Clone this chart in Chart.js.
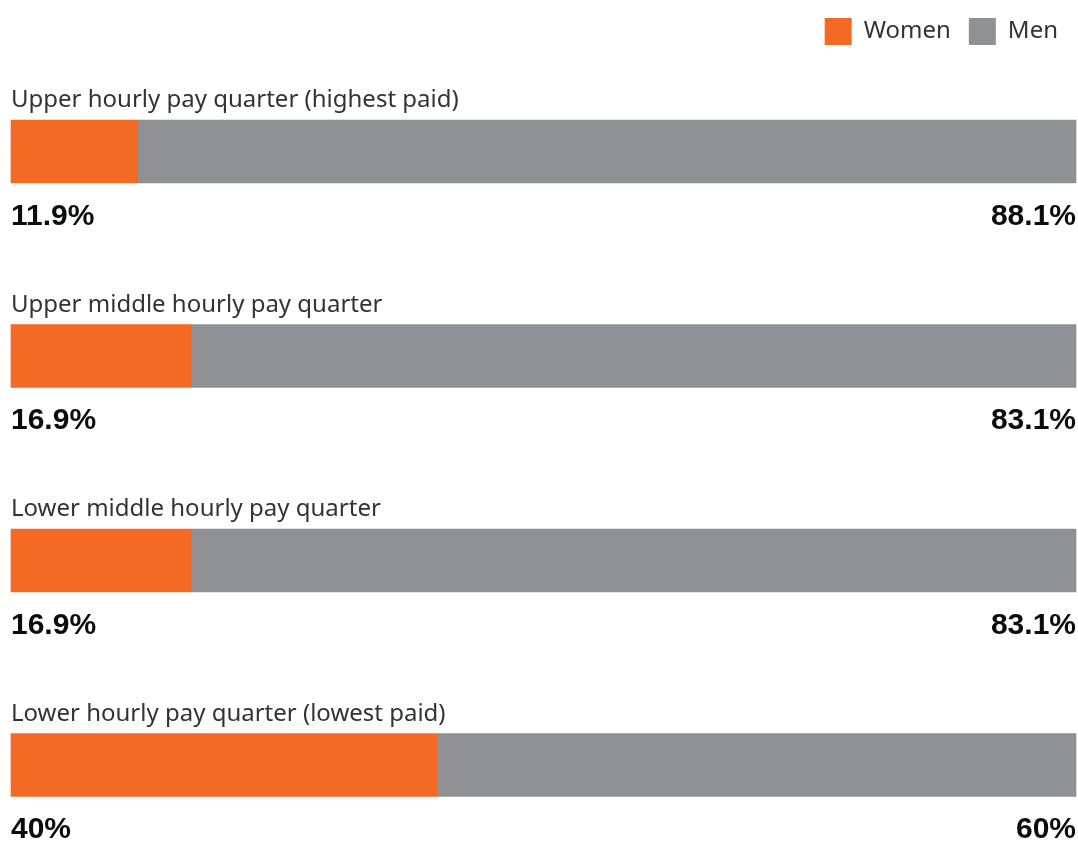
<!DOCTYPE html>
<html>
<head>
<meta charset="utf-8">
<script src="https://cdn.jsdelivr.net/npm/chart.js@4/dist/chart.umd.min.js"></script>
<style>
  html, body { margin: 0; padding: 0; background: #fff; }
  #wrap { width: 1078px; height: 841px; }
</style>
</head>
<body>
<div id="wrap"><canvas id="myChart" width="1078" height="841"></canvas></div>
<script>
// datos
var quarters = [
  "Upper hourly pay quarter (highest paid)",
  "Upper middle hourly pay quarter",
  "Lower middle hourly pay quarter",
  "Lower hourly pay quarter (lowest paid)"
];
var women = [11.9, 16.9, 16.9, 40];
var men = [88.1, 83.1, 83.1, 60];
var womenLabels = ["11.9%", "16.9%", "16.9%", "40%"];
var menLabels = ["88.1%", "83.1%", "83.1%", "60%"];

// la leyenda ocupa todo el espacio de arriba
var espacioLeyenda = {
  id: 'espacioLeyenda',
  beforeInit: function(chart) {
    var fitOriginal = chart.legend.fit;
    chart.legend.fit = function() {
      fitOriginal.bind(chart.legend)();
      this.height = 151.5;
    };
  }
};

// titulos arriba de cada barra y porcentajes abajo
var etiquetas = {
  id: 'etiquetas',
  afterDatasetsDraw: function(chart) {
    var ctx = chart.ctx;
    var area = chart.chartArea;
    var yScale = chart.scales.y;
    ctx.save();
    for (var i = 0; i < quarters.length; i++) {
      var y = yScale.getPixelForValue(i);
      ctx.font = '24px "Noto Sans"';
      ctx.fillStyle = '#333333';
      ctx.textBaseline = 'middle';
      ctx.textAlign = 'left';
      ctx.fillText(quarters[i], area.left, y - 51);

      ctx.font = 'bold 30px "Liberation Sans"';
      ctx.fillStyle = '#0b0c0c';
      ctx.textAlign = 'left';
      ctx.fillText(womenLabels[i], area.left, y + 65);
      ctx.textAlign = 'right';
      ctx.fillText(menLabels[i], area.right, y + 65);
    }
    ctx.restore();
  }
};

var chartdata = {
  labels: quarters,
  datasets: [
    {
      label: 'Women',
      backgroundColor: '#f36a25',
      data: women,
      barThickness: 63,
      clip: false
    },
    {
      label: 'Men',
      backgroundColor: '#909195',
      data: men,
      barThickness: 63,
      clip: false
    }
  ]
};

var barGraph = new Chart(document.getElementById('myChart'), {
  type: 'bar',
  data: chartdata,
  plugins: [espacioLeyenda, etiquetas],
  options: {
    indexAxis: 'y',
    responsive: false,
    animation: false,
    layout: { padding: { top: 0, bottom: 76, left: 11, right: 2 } },
    scales: {
      x: { stacked: true, min: 0, max: 100, display: false },
      y: { stacked: true, offset: false, display: false }
    },
    plugins: {
      legend: {
        position: 'top',
        align: 'end',
        labels: {
          boxWidth: 27,
          boxHeight: 27,
          padding: 18,
          color: '#333333',
          font: { family: 'Noto Sans', size: 24 }
        }
      },
      tooltip: { enabled: true }
    }
  }
});
</script>
</body>
</html>
